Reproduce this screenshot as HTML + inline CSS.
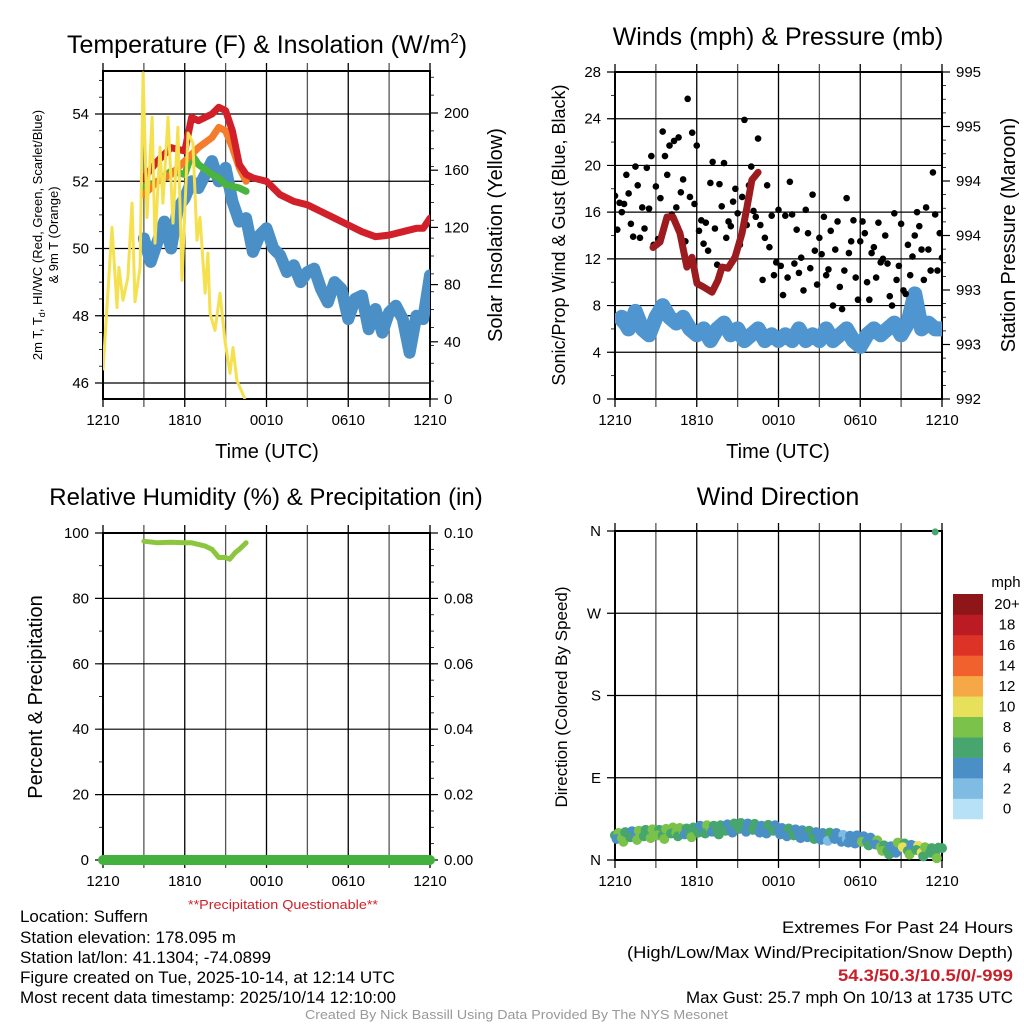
<!DOCTYPE html>
<html><head><meta charset="utf-8"><style>
html,body{margin:0;padding:0;background:#fff;}
svg{display:block;font-family:"Liberation Sans",sans-serif;}
.n{font-family:"Liberation Sans Narrow","Liberation Sans",sans-serif;}
</style></head><body>
<svg id="fig" width="1024" height="1024" viewBox="0 0 1024 1024" xmlns="http://www.w3.org/2000/svg">
<rect width="1024" height="1024" fill="#fff"/>
<g id="layer"></g>
<text x="267" y="53" font-size="25" text-anchor="middle">Temperature (F) &amp; Insolation (W/m<tspan dy="-10" font-size="15">2</tspan><tspan dy="10">)</tspan></text>
<text x="778" y="45" font-size="25" text-anchor="middle">Winds (mph) &amp; Pressure (mb)</text>
<text x="266" y="505" font-size="24" text-anchor="middle">Relative Humidity (%) &amp; Precipitation (in)</text>
<text x="778" y="505" font-size="25" text-anchor="middle">Wind Direction</text>
<text x="267" y="458" font-size="20" text-anchor="middle">Time (UTC)</text>
<text x="778" y="458" font-size="20" text-anchor="middle">Time (UTC)</text>
<text transform="translate(42,235) rotate(-90)" font-size="13" text-anchor="middle">2m T, T<tspan dy="3" font-size="9">d</tspan><tspan dy="-3">, HI/WC (Red, Green, Scarlet/Blue)</tspan></text>
<text transform="translate(58,235) rotate(-90)" font-size="13" text-anchor="middle">&amp; 9m T (Orange)</text>
<text transform="translate(502,235) rotate(-90)" font-size="20" text-anchor="middle">Solar Insolation (Yellow)</text>
<text transform="translate(565,235) rotate(-90)" font-size="18" text-anchor="middle">Sonic/Prop Wind &amp; Gust (Blue, Black)</text>
<text transform="translate(1015,235) rotate(-90)" font-size="20" text-anchor="middle">Station Pressure (Maroon)</text>
<text transform="translate(42,697) rotate(-90)" font-size="20" text-anchor="middle">Percent &amp; Precipitation</text>
<text transform="translate(567,697) rotate(-90)" font-size="17" text-anchor="middle">Direction (Colored By Speed)</text>
<text class="n" x="188" y="909" font-size="13" fill="#d0202a" textLength="190" lengthAdjust="spacingAndGlyphs">**Precipitation Questionable**</text>
<g class="n" font-size="17">
<text x="20" y="922" textLength="128" lengthAdjust="spacingAndGlyphs">Location: Suffern</text>
<text x="20" y="943" textLength="216" lengthAdjust="spacingAndGlyphs">Station elevation: 178.095 m</text>
<text x="20" y="963" textLength="251" lengthAdjust="spacingAndGlyphs">Station lat/lon: 41.1304; -74.0899</text>
<text x="20" y="983" textLength="375" lengthAdjust="spacingAndGlyphs">Figure created on Tue, 2025-10-14, at 12:14 UTC</text>
<text x="20" y="1003" textLength="376" lengthAdjust="spacingAndGlyphs">Most recent data timestamp: 2025/10/14 12:10:00</text>
</g>
<g class="n" font-size="17">
<text x="782" y="933" textLength="231" lengthAdjust="spacingAndGlyphs">Extremes For Past 24 Hours</text>
<text x="627" y="958" textLength="386" lengthAdjust="spacingAndGlyphs">(High/Low/Max Wind/Precipitation/Snow Depth)</text>
<text x="838" y="981" fill="#c8202a" font-weight="bold" textLength="175" lengthAdjust="spacingAndGlyphs">54.3/50.3/10.5/0/-999</text>
<text x="686" y="1003" textLength="327" lengthAdjust="spacingAndGlyphs">Max Gust: 25.7 mph On 10/13 at 1735 UTC</text>
</g>
<text class="n" x="305" y="1019" font-size="13" fill="#999" textLength="423" lengthAdjust="spacingAndGlyphs">Created By Nick Bassill Using Data Provided By The NYS Mesonet</text>
</svg>
<script>
// ---------- data ----------
const timeTickLabels = ["1210","1810","0010","0610","1210"];
const redT = [3,4,5,6,6.5,7,8,8.5,9,9.5,10,10.5,11,12,13,14,15,16,17,18,19,20,21,22,23,23.5,24];
const redV = [52.1,52.6,53.0,52.9,53.9,53.8,54.0,54.2,54.1,53.5,52.5,52.2,52.1,52.0,51.6,51.4,51.3,51.1,50.9,50.7,50.5,50.35,50.4,50.5,50.6,50.6,50.9];
const orangeT = [3,4,5,6,7,8,8.5,9,9.5,10,10.5];
const orangeV = [51.6,52.0,52.2,52.6,53.0,53.3,53.6,53.5,53.0,52.4,52.0];
const greenT = [3,4,5,6,6.5,7,8,8.5,9,10,10.5];
const greenV = [51.8,52.0,52.3,52.2,52.8,52.5,52.2,52.1,51.9,51.8,51.7];
const blueT = [3,3.5,4,4.5,5,5.5,6,6.5,7,7.5,8,8.5,9,9.5,10,10.5,11,11.5,12,12.5,13,13.5,14,14.5,15,15.5,16,16.5,17,17.5,18,18.5,19,19.5,20,20.5,21,21.5,22,22.5,23,23.5,24];
const blueV = [50.3,49.6,50.2,50.8,50.0,51.2,51.5,52.0,51.8,52.2,52.6,52.0,52.4,51.4,50.8,50.9,49.9,50.4,50.6,50.0,49.8,49.3,49.5,49.0,49.3,49.4,48.8,48.4,49.0,48.8,47.9,48.5,48.6,47.6,48.2,47.5,48.1,48.3,47.9,46.9,48.0,47.9,49.2];
const solarT = [0,0.66,1.03,1.17,1.47,1.83,2.13,2.35,2.72,2.94,3.23,3.6,3.82,4.18,4.4,4.77,5.14,5.5,5.8,6.24,6.6,6.9,7.12,7.49,7.7,7.85,8.22,8.59,8.95,9.32,9.54,9.83,10.42];
const solarV = [20,120,64,92,69,85,137,68,92,228,127,197,109,176,137,197,123,190,83,186,179,111,127,74,102,60,48,74,41,18,36,13,0];
const tempTicks = [46,48,50,52,54];
const solarTicks = [0,40,80,120,160,200];

const windT = [0,0.5,1,1.5,2,2.5,3,3.5,4,4.5,5,5.5,6,6.5,7,7.5,8,8.5,9,9.5,10,10.5,11,11.5,12,12.5,13,13.5,14,14.5,15,15.5,16,16.5,17,17.5,18,18.5,19,19.5,20,20.5,21,21.5,22,22.5,23,23.5,24];
const windV = [6.5,7,6,7.5,6,5.5,7,8,7,6.5,7,6,5.5,6,5,6,6.5,5.5,6,5,5.5,6,5,5.5,5,5.5,5,6,5,5.5,5,6,5,5.5,6,5,4.5,5.5,6,5.5,6,6.5,5.5,6.5,9,6,6.5,6,6];
const gustV = [17.4,14.5,16.8,16.0,16.7,19.2, 17.6,15.0,13.9,19.9,18.3,13.8, 16.4,14.6,19.8,16.3,20.8,13.2, 18.2,13.7,17.2,22.9,20.8,19.2, 21.7,15.8,22.1,16.4,22.4,17.7, 18.8,13.5,25.7,17.3,22.8,16.7, 21.7,14.4,15.3,13.3,15.1,12.7, 18.5,20.3,14.6,11.5,18.4,16.5, 20.2,13.8,15.2,14.8,16.9,18.0, 15.9,13.2,17.3,23.9,14.9,18.3, 19.9,16.1,15.6,22.3,14.9,10.2, 13.8,18.3,13.0,15.7,10.6,11.7, 16.2,11.4,8.9,15.7,10.4,18.6, 15.8,11.6,14.5,10.8,12.1,9.3, 16.2,14.2,11.2,17.5,12.7,9.8, 13.8,12.4,15.6,10.6,11.1,14.4, 8.0,12.8,15.2,9.6,7.7,11.0, 17.2,12.5,13.5,15.3,10.4,8.5, 13.5,15.2,14.2,10.0,8.5,12.5, 13.0,10.4,15.1,11.7,12.0,14.0, 11.6,8.8,8.0,15.9,10.2,11.4, 15.0,9.3,9.0,13.2,10.6,12.2, 14.0,16.0,14.8,12.8,10.2,16.4, 12.8,11.0,19.4,15.8,11.0,14.2, 12.1];
const pressT = [2.79,3.30,3.82,4.26,4.77,5.28,5.65,6.02,6.46,7.12,7.56,7.85,8.29,8.81,9.32,9.69,10.05,10.5];
const pressV = [993.39,993.44,993.67,993.67,993.52,993.21,993.30,993.06,993.03,992.98,993.09,993.21,993.20,993.30,993.52,993.76,994.01,994.08];
const windTicks = [0,4,8,12,16,20,24,28];
const pressTicks = [992,992.5,993,993.5,994,994.5,995];
const pressTickLabels = ["992","993","993","994","994","995","995"];

const rhT = [3,4,5,6,6.5,7.5,8,8.5,9,9.3,9.7,10,10.5];
const rhV = [97.5,97,97.2,97,97,96,95,92.5,92.5,92,94,95,97];
const precipT = [0,24];
const precipV = [0,0];
const rhTicks = [0,20,40,60,80,100];
const precipTickLabels = ["0.00","0.02","0.04","0.06","0.08","0.10"];

const dirV = [27,24,29,26,30,28,31,27,33,30,32,29,34,33,35,32,36,34,38,35,37,34,33,36,32,30,31,28,29,27,26,25,27,24,23,22,24,20,21,14,10,12,18,10,15,8,12,6,13];
const dirSpeed = [6,8,7,5,8,7,9,6,8,8,9,7,6,5,8,7,6,5,6,7,5,6,4,6,5,4,6,5,4,6,5,4,6,4,2,5,4,5,4,8,7,4,8,6,5,10,8,6,7];
const dirOutlierT = [23.5];
const dirOutlierV = [359];
const dirOutlierS = [6];
const dirTicks = [0,90,180,270,360];
const dirTickLabels = ["N","E","S","W","N"];
const legendLabels = ["0","2","4","6","8","10","12","14","16","18","20+"];
const legendColors = ["#b7e1f6","#7fbbe3","#4a8fc6","#47a56e","#7bc24a","#e6e05a","#f7a846","#f0612d","#dd3327","#bb1b22","#8e1518"];

// ---------- helpers ----------
const NS="http://www.w3.org/2000/svg";
const layer=document.getElementById('layer');
function mk(tag,attrs,parent){const e=document.createElementNS(NS,tag);for(const k in attrs)e.setAttribute(k,attrs[k]);(parent||layer).appendChild(e);return e;}
function lin(d0,d1,r0,r1){return v=>r0+(v-d0)/(d1-d0)*(r1-r0);}
function pathOf(ts,vs,X,Y){return ts.map((t,i)=>(i?'L':'M')+X(t).toFixed(1)+','+Y(vs[i]).toFixed(1)).join(' ');}

function frame(x0,x1,y0,y1,name,leftTicks,leftLbl,Yl,rightTicks,rightLbl,Yr,minorL,minorR){
  const g=mk('g',{});
  
  
  const X=lin(0,24,x0,x1);
  for(let h=0;h<=24;h+=3){
    const l=mk('line',{x1:X(h),x2:X(h),y1:y0-8,y2:y1+8,stroke:(h%6==0)?'#000':'#555','stroke-width':1.3},g);
    
    
  }
  timeTickLabels.forEach((s,i)=>{
    const t=mk('text',{x:X(i*6),y:y1+26,'font-size':15,'text-anchor':'middle'},g);t.textContent=s;
    
    
  });
  minorL.forEach(v=>mk('line',{x1:x0-4,x2:x0,y1:Yl(v),y2:Yl(v),stroke:'#000','stroke-width':0.8},g));
  minorR.forEach(v=>mk('line',{x1:x1,x2:x1+4,y1:Yr(v),y2:Yr(v),stroke:'#000','stroke-width':0.8},g));
  leftTicks.forEach((v,i)=>{
    mk('line',{x1:x0-8,x2:x1,y1:Yl(v),y2:Yl(v),stroke:'#000','stroke-width':1.2},g);
    const t=mk('text',{x:x0-14,y:Yl(v)+5,'font-size':15,'text-anchor':'end'},g);t.textContent=leftLbl[i];
    
    
  });
  if(rightTicks) rightTicks.forEach((v,i)=>{
    mk('line',{x1:x1,x2:x1+8,y1:Yr(v),y2:Yr(v),stroke:'#000','stroke-width':1.2},g);
    const t=mk('text',{x:x1+14,y:Yr(v)+5,'font-size':15},g);t.textContent=rightLbl[i];
    
    
  });
  mk('rect',{x:x0,y:y0,width:x1-x0,height:y1-y0,fill:'none',stroke:'#000','stroke-width':2},g);
  return X;
}
function range(a,b,s){const r=[];for(let v=a;v<=b+1e-9;v+=s)r.push(+v.toFixed(3));return r;}

// ---------- Panel 1: temperature ----------
(function(){
  const x0=103,x1=430,y0=71,y1=399;
  const Yl=lin(46,54,383,114), Yr=lin(0,200,399,113);
  const X=frame(x0,x1,y0,y1,'temperature',tempTicks,tempTicks.map(String),Yl,solarTicks,solarTicks.map(String),Yr,range(46,55,0.5),range(0,225,12.5));
  const clip=mk('clipPath',{id:'c1'});mk('rect',{x:x0,y:y0,width:x1-x0,height:y1-y0},clip);
  const g=mk('g',{'clip-path':'url(#c1)'});
  const series=[[blueT,blueV,'#4a8fc6',12,'dewpoint-line'],[greenT,greenV,'#4bb33f',7,'heat-index-line'],[orangeT,orangeV,'#f47c2a',7,'temp-9m-line'],[redT,redV,'#d2202a',7,'temp-2m-line']];
  series.forEach(s=>{
    const p=mk('path',{d:pathOf(s[0],s[1],X,Yl),fill:'none',stroke:s[2],'stroke-width':s[3],'stroke-linejoin':'round','stroke-linecap':'round'},g);
    
    
  });
  const p=mk('path',{d:pathOf(solarT,solarV,X,Yr),fill:'none',stroke:'#f5e050','stroke-width':3,'stroke-linejoin':'round'},g);
  
  
})();

// ---------- Panel 2: winds ----------
(function(){
  const x0=615,x1=942,y0=72,y1=399;
  const Yl=lin(0,28,399,72), Yr=lin(992,995,399,72);
  const X=frame(x0,x1,y0,y1,'winds',windTicks,windTicks.map(String),Yl,pressTicks,pressTickLabels,Yr,range(0,28,2),range(992,995,0.125));
  const clip=mk('clipPath',{id:'c2'});mk('rect',{x:x0,y:y0,width:x1-x0,height:y1-y0},clip);
  const g=mk('g',{'clip-path':'url(#c2)'});
  const p=mk('path',{d:pathOf(windT,windV,X,Yl),fill:'none',stroke:'#4f95d0','stroke-width':15,'stroke-linejoin':'round'},g);
  
  
  gustV.forEach((v,i)=>{
    const c=mk('circle',{cx:X(i/6),cy:Yl(v),r:3.3,fill:'#000'},g);
    
    
  });
  const q=mk('path',{d:pathOf(pressT,pressV,X,Yr),fill:'none',stroke:'#9b1b1e','stroke-width':7,'stroke-linejoin':'round','stroke-linecap':'round'},g);
  
  
})();

// ---------- Panel 3: RH ----------
(function(){
  const x0=103,x1=430,y0=533,y1=860;
  const Yl=lin(0,100,860,533), Yr=lin(0,0.1,860,533);
  const X=frame(x0,x1,y0,y1,'humidity',rhTicks,rhTicks.map(String),Yl,[0,0.02,0.04,0.06,0.08,0.1],precipTickLabels,Yr,range(0,100,10),range(0,0.1,0.005));
  const p=mk('path',{d:pathOf(rhT,rhV,X,Yl),fill:'none',stroke:'#8cc63f','stroke-width':5,'stroke-linejoin':'round','stroke-linecap':'round'});
  
  
  const q=mk('path',{d:pathOf(precipT,precipV,X,Yr),fill:'none',stroke:'#44b03e','stroke-width':10,'stroke-linecap':'round'});
  
  
})();

// ---------- Panel 4: direction ----------
(function(){
  const x0=615,x1=942,y0=531,y1=860;
  const Yl=lin(0,360,860,531);
  const X=frame(x0,x1,y0,y1,'wind-direction',dirTicks,dirTickLabels,Yl,null,null,Yl,[],[]);
  const col=s=>legendColors[Math.min(10,Math.max(0,Math.floor(s/2)))];
  dirV.forEach((d,i)=>{
    const c=mk('circle',{cx:X(i*0.5),cy:Yl(d),r:5,fill:col(dirSpeed[i])});
    
    
    if(i<dirV.length-1){
      const c2=mk('circle',{cx:X(i*0.5+0.25),cy:Yl((d+dirV[i+1])/2+4),r:5,fill:col(dirSpeed[i+1])});
      
      
      const c3=mk('circle',{cx:X(i*0.5+0.12),cy:Yl(d-4),r:5,fill:col(dirSpeed[(i+3)%dirSpeed.length])});
      
      
    }
  });
  dirOutlierT.forEach((t,i)=>{
    const c=mk('circle',{cx:X(t),cy:Yl(dirOutlierV[i]),r:3.5,fill:col(dirOutlierS[i])});
    
    
  });
  // legend
  const lg=mk('g',{});
  
  
  const top=594,h=20.45;
  const mt=mk('text',{x:1006,y:587,'font-size':15,'text-anchor':'middle'},lg);mt.textContent='mph';
  legendColors.forEach((c,i)=>{
    const k=10-i;
    mk('rect',{x:953,y:top+k*h,width:30,height:h+0.3,fill:c},lg);
    const t=mk('text',{x:1007,y:top+k*h+h/2+5,'font-size':15,'text-anchor':'middle'},lg);t.textContent=legendLabels[i];
    
    
  });
})();
</script>
</body></html>
